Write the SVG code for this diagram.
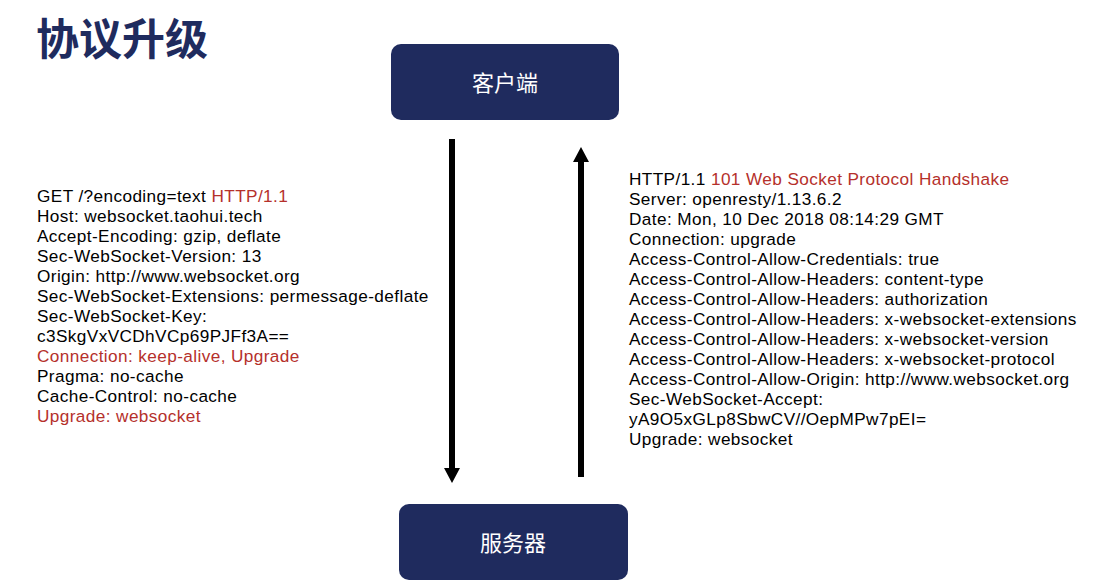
<svg xmlns="http://www.w3.org/2000/svg" width="1106" height="586" viewBox="0 0 1106 586">
<style>
.t{font-family:"Liberation Sans",Arial,sans-serif;font-size:17.2px;letter-spacing:0.4px;fill:#000}
.r{fill:#b5302b}
.box{fill:#1f2b5e}
.lbl{font-family:"Noto Sans CJK SC","Noto Sans",sans-serif;font-size:22px;fill:#fff;text-anchor:middle}
.title{font-family:"Noto Sans CJK SC",sans-serif;font-size:43px;font-weight:bold;fill:#1f2b5e}
.conn{stroke:#000;stroke-width:6;fill:none}
</style>
<rect width="1106" height="586" fill="#fff"/>
<text class="title" x="36" y="55">协议升级</text>
<g id="client">
<rect class="box" x="391" y="44" width="228" height="76" rx="10"/>
<text class="lbl" x="505" y="91">客户端</text>
</g>
<g id="server">
<rect class="box" x="399" y="504" width="229" height="76" rx="10"/>
<text class="lbl" x="513" y="551">服务器</text>
</g>
<g id="connectors">
<line class="conn" x1="452" y1="139" x2="452" y2="470"/>
<path d="M444 468 L460 468 L452 483 Z" fill="#000"/>
<line class="conn" x1="581" y1="477" x2="581" y2="160"/>
<path d="M573 162 L589 162 L581 147 Z" fill="#000"/>
</g>
<g id="request">
<text class="t" x="37" y="202">GET /?encoding=text <tspan class="r">HTTP/1.1</tspan></text>
<text class="t" x="37" y="222">Host: websocket.taohui.tech</text>
<text class="t" x="37" y="242">Accept-Encoding: gzip, deflate</text>
<text class="t" x="37" y="262">Sec-WebSocket-Version: 13</text>
<text class="t" x="37" y="282">Origin: http://www.websocket.org</text>
<text class="t" x="37" y="302">Sec-WebSocket-Extensions: permessage-deflate</text>
<text class="t" x="37" y="322">Sec-WebSocket-Key:</text>
<text class="t" x="37" y="342">c3SkgVxVCDhVCp69PJFf3A==</text>
<text class="t r" x="37" y="362">Connection: keep-alive, Upgrade</text>
<text class="t" x="37" y="382">Pragma: no-cache</text>
<text class="t" x="37" y="402">Cache-Control: no-cache</text>
<text class="t r" x="37" y="422">Upgrade: websocket</text>
</g>
<g id="response">
<text class="t" x="629" y="185">HTTP/1.1 <tspan class="r">101 Web Socket Protocol Handshake</tspan></text>
<text class="t" x="629" y="205">Server: openresty/1.13.6.2</text>
<text class="t" x="629" y="225">Date: Mon, 10 Dec 2018 08:14:29 GMT</text>
<text class="t" x="629" y="245">Connection: upgrade</text>
<text class="t" x="629" y="265">Access-Control-Allow-Credentials: true</text>
<text class="t" x="629" y="285">Access-Control-Allow-Headers: content-type</text>
<text class="t" x="629" y="305">Access-Control-Allow-Headers: authorization</text>
<text class="t" x="629" y="325">Access-Control-Allow-Headers: x-websocket-extensions</text>
<text class="t" x="629" y="345">Access-Control-Allow-Headers: x-websocket-version</text>
<text class="t" x="629" y="365">Access-Control-Allow-Headers: x-websocket-protocol</text>
<text class="t" x="629" y="385">Access-Control-Allow-Origin: http://www.websocket.org</text>
<text class="t" x="629" y="405">Sec-WebSocket-Accept:</text>
<text class="t" x="629" y="425">yA9O5xGLp8SbwCV//OepMPw7pEI=</text>
<text class="t" x="629" y="445">Upgrade: websocket</text>
</g>
</svg>
